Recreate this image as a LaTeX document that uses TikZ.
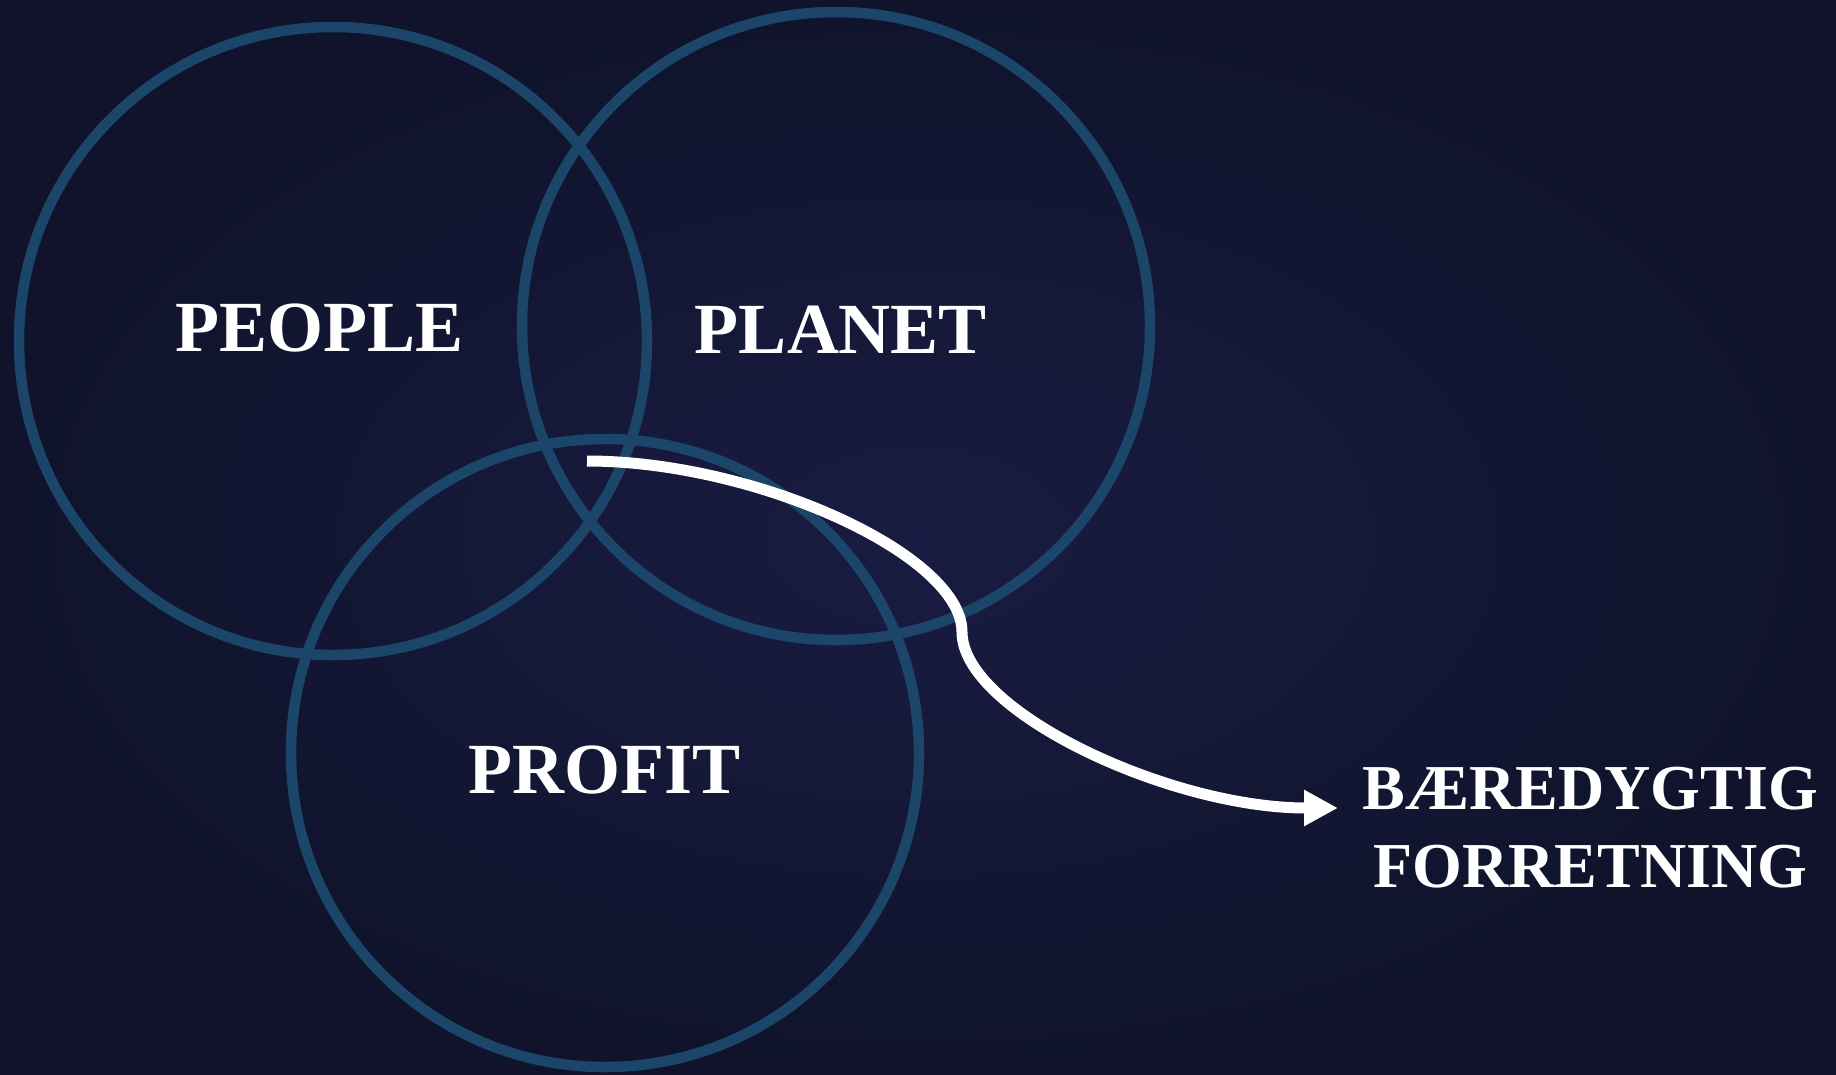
\documentclass[tikz,border=0pt]{standalone}
\usepackage{fontspec}
\setmainfont{Liberation Serif}
\usetikzlibrary{arrows.meta}
\definecolor{bgin}{HTML}{191C42}
\definecolor{bgout}{HTML}{10132B}
\definecolor{ringcol}{HTML}{1B4569}
\tikzset{
  ring/.style={draw=ringcol, line width=10.5},
  bigtext/.style={text=white, font=\fontsize{72}{86}\selectfont\bfseries, inner sep=0, anchor=base},
  goaltext/.style={text=white, font=\fontsize{64}{77}\selectfont\bfseries, inner sep=0, anchor=base},
  flow/.style={draw=white, line width=11, -{Triangle[length=34pt,width=34pt]}}
}
\begin{document}
\begin{tikzpicture}[x=1pt,y=-1pt]
\useasboundingbox (0,0) rectangle (1836,1074);
\shade[inner color=bgin, outer color=bgout] (0,0) rectangle (1836,1074);
% circles
\node[ring, circle, minimum size=628, inner sep=0] (people) at (333,341) {};
\node[ring, circle, minimum size=628, inner sep=0] (planet) at (836,326) {};
\node[ring, circle, minimum size=628, inner sep=0] (profit) at (605,753) {};
% labels
\node[bigtext] (lpeople) at (319.5,351.5) {PEOPLE};
\node[bigtext] (lplanet) at (841,353) {PLANET};
\node[bigtext] (lprofit) at (604.5,793) {PROFIT};
\node[goaltext] (goalA) at (1590.5,809) {BÆREDYGTIG};
\node[goaltext] (goalB) at (1590.5,887) {FORRETNING};
% arrow
\coordinate (start) at (587,461);
\coordinate (mid) at (962,632);
\coordinate (tip) at (1338,808);
\draw[flow] (start) .. controls (756,461) and (962,555) .. (mid)
  .. controls (962,711) and (1169,808) .. (tip);
\end{tikzpicture}
\end{document}
